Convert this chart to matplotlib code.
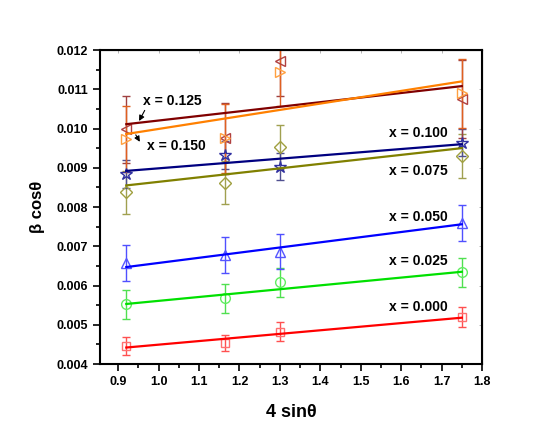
import matplotlib

matplotlib.use("Agg")
import matplotlib.pyplot as plt
from matplotlib.ticker import MultipleLocator, FormatStrFormatter

plt.rcParams["font.family"] = ["Liberation Sans", "DejaVu Sans"]
plt.rcParams["font.weight"] = "bold"

# 4 sin(theta) positions
x_vals = [0.92, 1.165, 1.30, 1.75]

labels = ["x = 0.000", "x = 0.025", "x = 0.050", "x = 0.075",
          "x = 0.100", "x = 0.125", "x = 0.150"]

# beta cos(theta) per composition
y_000 = [0.00446, 0.00454, 0.00482, 0.00519]
y_025 = [0.00552, 0.00567, 0.00608, 0.00634]
y_050 = [0.00658, 0.00678, 0.00686, 0.00760]
y_075 = [0.00837, 0.00862, 0.00954, 0.00931]
y_100 = [0.00884, 0.00932, 0.00903, 0.00964]
y_125 = [0.00998, 0.00975, 0.01172, 0.01075]
y_150 = [0.00973, 0.00975, 0.01145, 0.01090]

err_000 = [0.00024, 0.00021, 0.00024, 0.00025]
err_025 = [0.00037, 0.00037, 0.00036, 0.00037]
err_050 = [0.00046, 0.00046, 0.00045, 0.00046]
err_075 = [0.00055, 0.00054, 0.00056, 0.00056]
err_100 = [0.00035, 0.00035, 0.00035, 0.00035]
err_125 = [0.00086, 0.00090, 0.00090, 0.00100]
err_150 = [0.00085, 0.00088, 0.00088, 0.00088]

# linear fit lines, value at first and last x
fit_start = [0.00442, 0.00553, 0.00647, 0.00855, 0.00892, 0.01011, 0.00986]
fit_end = [0.00518, 0.00635, 0.00756, 0.00950, 0.00960, 0.01108, 0.01120]

series_y = [y_000, y_025, y_050, y_075, y_100, y_125, y_150]
series_err = [err_000, err_025, err_050, err_075, err_100, err_125, err_150]

line_colors = ["#ff0000", "#00e000", "#0000ff", "#808000", "#000080", "#800000", "#ff8000"]
marker_colors = ["#ff7070", "#60ee60", "#5555ff", "#a0a040", "#3030a0", "#b04040", "#ffa040"]
err_colors = ["#ff5050", "#50e050", "#5050ff", "#a0a050", "#505090", "#a04040", "#e06020"]
markers = ["s", "o", "^", "D", "*", "<", ">"]
msizes = [6, 7, 7, 6, 9, 7, 7]

fig = plt.figure(figsize=(5.6, 4.36), dpi=100)
ax = fig.add_axes([0.1786, 0.1651, 0.6821, 0.7202])

for i in range(len(labels)):
    ax.errorbar(x_vals, series_y[i], yerr=series_err[i], fmt="none",
                ecolor=err_colors[i], elinewidth=1.0, capsize=3, capthick=1.0, zorder=2)
    ax.plot(x_vals, series_y[i], linestyle="none", marker=markers[i], markersize=msizes[i],
            markerfacecolor="none", markeredgecolor=marker_colors[i], markeredgewidth=1.0, zorder=3)
    ax.plot([x_vals[0], x_vals[-1]], [fit_start[i], fit_end[i]], color=line_colors[i],
            linewidth=1.6, zorder=4)

# right side labels
label_pos_y = [0.005445, 0.006632, 0.007753, 0.008917, 0.009893]
for i, yy in enumerate(label_pos_y):
    ax.text(1.716, yy, labels[i], ha="right", va="center", fontsize=10, fontweight="bold")

ax.annotate(labels[5], xy=(0.950, 0.01016), xytext=(0.962, 0.01071),
            ha="left", va="center", fontsize=10, fontweight="bold",
            arrowprops=dict(arrowstyle="-|>", color="black", lw=0.8, mutation_scale=8,
                            relpos=(0.05, 0.0), shrinkA=0, shrinkB=1))
ax.annotate("", xy=(0.957, 0.00960), xytext=(0.940, 0.00990),
            arrowprops=dict(arrowstyle="-|>", color="black", lw=0.8, mutation_scale=8))
ax.text(0.972, 0.00955, labels[6], ha="left", va="center", fontsize=10, fontweight="bold")

ax.set_xlim(0.855, 1.8)
ax.set_ylim(0.004, 0.012)
ax.xaxis.set_major_locator(MultipleLocator(0.1))
ax.xaxis.set_minor_locator(MultipleLocator(0.05))
ax.yaxis.set_major_locator(MultipleLocator(0.001))
ax.yaxis.set_minor_locator(MultipleLocator(0.0005))
ax.xaxis.set_major_formatter(FormatStrFormatter("%.1f"))
ax.yaxis.set_major_formatter(FormatStrFormatter("%.3f"))

ax.tick_params(which="both", direction="out", width=1.2, labelsize=9)
ax.tick_params(which="major", length=5)
ax.tick_params(which="minor", length=3)
for lab in ax.get_xticklabels() + ax.get_yticklabels():
    lab.set_fontweight("bold")

for side in ["left", "bottom", "top", "right"]:
    ax.spines[side].set_linewidth(1.5)

# faint inner ticks on top and right
top = ax.secondary_xaxis("top")
top.xaxis.set_major_locator(MultipleLocator(0.1))
top.tick_params(direction="in", length=2, width=0.5, color="#999999", labeltop=False)
right = ax.secondary_yaxis("right")
right.yaxis.set_major_locator(MultipleLocator(0.001))
right.tick_params(direction="in", length=2, width=0.5, color="#999999", labelright=False)

ax.set_xlabel("4 sin\u03b8", fontsize=13, fontweight="bold", labelpad=12)
ax.set_ylabel("\u03b2 cos\u03b8", fontsize=12, fontweight="bold", labelpad=8)

fig.savefig("out.png", dpi=100)
plt.close(fig)
